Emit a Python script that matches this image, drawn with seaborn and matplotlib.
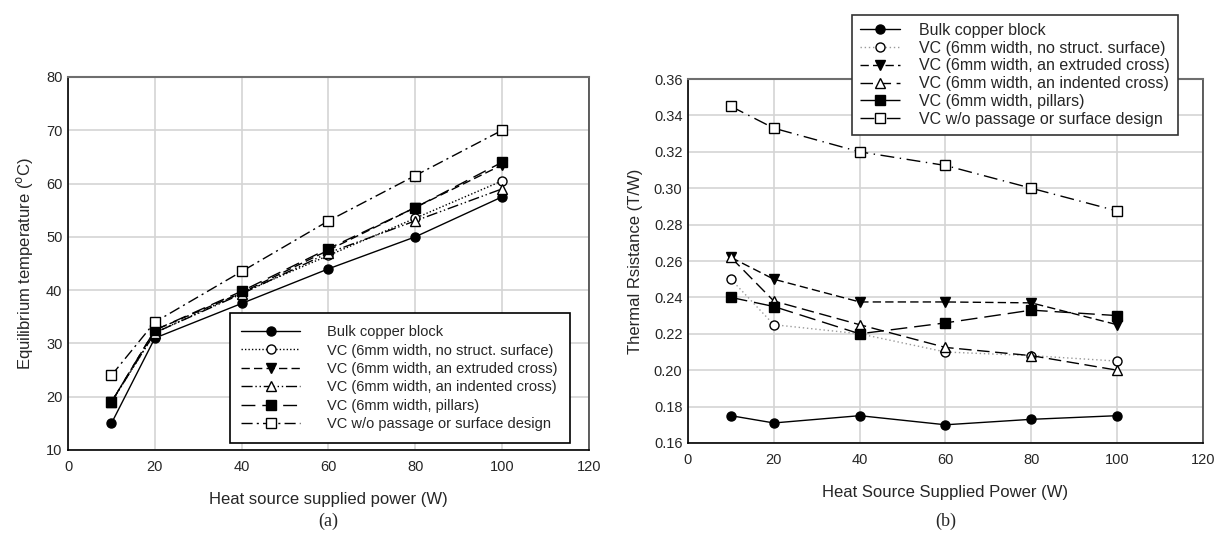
import pandas as pd
import matplotlib
matplotlib.use("Agg")
import matplotlib.pyplot as plt
import seaborn as sns

# heat source power (W)
power = [10, 20, 40, 60, 80, 100]

# (a) equilibrium temperature (C)
temp_bulk = [15.0, 31.0, 37.5, 44.0, 50.0, 57.5]
temp_nostruct = [19.0, 32.0, 39.5, 46.5, 53.5, 60.5]
temp_extruded = [19.0, 32.5, 39.5, 47.5, 55.5, 63.5]
temp_indented = [19.0, 32.0, 39.3, 47.0, 53.0, 59.0]
temp_pillars = [19.0, 32.5, 39.8, 47.8, 55.5, 64.0]
temp_wo = [24.0, 34.0, 43.5, 53.0, 61.5, 70.0]

# (b) thermal resistance (T/W)
res_bulk = [0.175, 0.171, 0.175, 0.170, 0.173, 0.175]
res_nostruct = [0.250, 0.225, 0.220, 0.210, 0.208, 0.205]
res_extruded = [0.262, 0.250, 0.2375, 0.2375, 0.237, 0.225]
res_indented = [0.262, 0.238, 0.225, 0.2125, 0.208, 0.200]
res_pillars = [0.240, 0.235, 0.220, 0.226, 0.233, 0.230]
res_wo = [0.345, 0.333, 0.320, 0.3125, 0.300, 0.2875]

labels = [
    "Bulk copper block",
    "VC (6mm width, no struct. surface)",
    "VC (6mm width, an extruded cross)",
    "VC (6mm width, an indented cross)",
    "VC (6mm width, pillars)",
    "VC w/o passage or surface design",
]

sns.set_theme(style="white")
plt.rcParams['font.family'] = ['Liberation Sans', 'DejaVu Sans']

# marker, filled?, linestyle for panel a and panel b
styles_a = [
    ("o", True, "-"),
    ("o", False, (0, (1, 1.5))),
    ("v", True, (0, (6, 3))),
    ("^", False, (0, (8, 2, 1, 2, 1, 2))),
    ("s", True, (0, (10, 5))),
    ("s", False, (0, (8, 3, 1.5, 3))),
]
styles_b = [
    ("o", True, "-"),
    ("o", False, (0, (1, 2))),
    ("v", True, (0, (6, 3))),
    ("^", False, (0, (9, 4))),
    ("s", True, (0, (12, 5))),
    ("s", False, (0, (10, 4, 1, 4))),
]

fig = plt.figure(figsize=(12.17, 5.44), dpi=100)
ax1 = fig.add_axes([0.0559, 0.1728, 0.428, 0.6857])
ax2 = fig.add_axes([0.5653, 0.1857, 0.4232, 0.669])


def draw(ax, series, styles):
    for vals, lab, (mk, filled, ls) in zip(series, labels, styles):
        df = pd.DataFrame({"power": power, "value": vals})
        line_color = "#9a9a9a" if ls == (0, (1, 2)) else "black"
        sns.lineplot(data=df, x="power", y="value", ax=ax, color=line_color,
                     linestyle=ls, linewidth=1.0, marker=mk, markersize=6.5,
                     markerfacecolor="black" if filled else "white",
                     markeredgecolor="black", markeredgewidth=1.0,
                     label=lab, zorder=3)


draw(ax1, [temp_bulk, temp_nostruct, temp_extruded, temp_indented, temp_pillars, temp_wo], styles_a)
draw(ax2, [res_bulk, res_nostruct, res_extruded, res_indented, res_pillars, res_wo], styles_b)

for ax in (ax1, ax2):
    ax.set_xlim(0, 120)
    ax.set_xticks(range(0, 121, 20))
    ax.grid(True, color="#d4d4d4", linewidth=1.2, zorder=0)
    ax.set_axisbelow(True)
    ax.tick_params(axis="x", direction="in", length=4, color="black", labelsize=10.5, pad=7)
    ax.tick_params(axis="y", length=0, labelsize=10.5, pad=4)
    for s in ("left", "bottom"):
        ax.spines[s].set_color("black")
        ax.spines[s].set_linewidth(1.2)
    ax.spines["top"].set_color("#6e6e6e")
    ax.spines["top"].set_linewidth(1.5)
    ax.spines["right"].set_color("#444444")
    ax.spines["right"].set_linewidth(1.2)

ax1.set_ylim(10, 80)
ax1.set_yticks(range(10, 81, 10))
ax1.set_xlabel("Heat source supplied power (W)", fontsize=12, labelpad=13)
ax1.set_ylabel("Equilibrium temperature ($^{\\mathrm{o}}$C)", fontsize=12, labelpad=8)

ax2.set_ylim(0.16, 0.36)
ax2.set_yticks([0.16, 0.18, 0.20, 0.22, 0.24, 0.26, 0.28, 0.30, 0.32, 0.34, 0.36])
ax2.set_yticklabels([f"{v:.2f}" for v in ax2.get_yticks()])
ax2.set_xlabel("Heat Source Supplied Power (W)", fontsize=12, labelpad=13)
ax2.set_ylabel("Thermal Rsistance (T/W)", fontsize=12, labelpad=8)

h1, l1 = ax1.get_legend_handles_labels()
leg1 = ax1.legend(h1, l1, loc="lower right", bbox_to_anchor=(0.977, 0.0),
                  frameon=True, fancybox=False, edgecolor="black", framealpha=1,
                  fontsize=10.5, handlelength=4.0, handletextpad=1.9,
                  labelspacing=0.3, borderpad=0.8)
leg1.get_frame().set_linewidth(1.2)

h2, l2 = ax2.get_legend_handles_labels()
leg2 = ax2.legend(h2, l2, loc="upper right", bbox_to_anchor=(0.967, 1.198),
                  frameon=True, fancybox=False, edgecolor="#333333", framealpha=1,
                  fontsize=11.5, handlelength=2.5, handletextpad=1.2,
                  labelspacing=0.17, borderpad=0.5)
leg2.get_frame().set_linewidth(1.2)

fig.text(0.2695, 0.025, "(a)", ha="center", va="bottom", fontsize=13,
         family=["Liberation Serif", "DejaVu Serif"])
fig.text(0.777, 0.025, "(b)", ha="center", va="bottom", fontsize=13,
         family=["Liberation Serif", "DejaVu Serif"])

fig.savefig("out.png", dpi=100)
